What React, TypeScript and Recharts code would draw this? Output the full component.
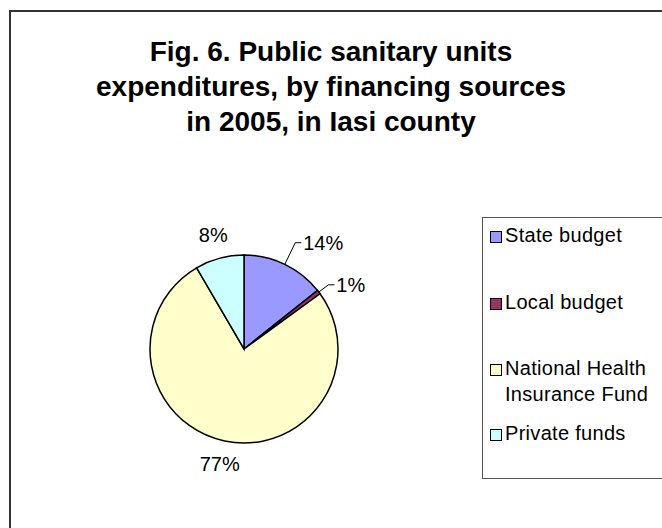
import { Cell, Legend, Pie, PieChart } from "recharts";

// Fig. 6 — shares of expenditure by financing source, 2005, Iasi county
const sources = ["State budget", "Local budget", "National Health Insurance Fund", "Private funds"];
const legendLines = [["State budget"], ["Local budget"], ["National Health", "Insurance Fund"], ["Private funds"]];
const shares = [14.3, 0.7, 76.6, 8.4];
const fills = ["#9999FF", "#993366", "#FFFFCC", "#CCFFFF"];

const titleLines = ["Fig. 6. Public sanitary units", "expenditures, by financing sources", "in 2005, in Iasi county"];

const data = sources.map((name, i) => ({ name, value: shares[i] }));

// small slices on the right get a leader line (Excel "best fit" style)
const leaderReach: Record<string, number> = { "State budget": 24, "Local budget": 12 };

const FONT = "'Liberation Sans', Arial, sans-serif";
const RAD = Math.PI / 180;

function renderLabel(props: any) {
  const { cx, cy, midAngle, outerRadius, percent, name } = props;
  const text = `${Math.round(percent * 100)}%`;
  const reach = leaderReach[name];
  const cos = Math.cos(-midAngle * RAD);
  const sin = Math.sin(-midAngle * RAD);
  if (reach !== undefined) {
    const sx = cx + outerRadius * cos;
    const sy = cy + outerRadius * sin;
    const ex = cx + (outerRadius + reach) * cos;
    const ey = cy + (outerRadius + reach) * sin;
    return (
      <g>
        <polyline points={`${sx},${sy} ${ex},${ey} ${ex + 6},${ey}`} fill="none" stroke="#000" strokeWidth={1} />
        <text x={ex + 8} y={ey} textAnchor="start" dominantBaseline="central" fontFamily={FONT} fontSize={20} fill="#000">
          {text}
        </text>
      </g>
    );
  }
  const x = cx + (outerRadius + 24) * cos;
  const y = cy + (outerRadius + 24) * sin;
  return (
    <text x={x} y={y} textAnchor="middle" dominantBaseline="central" fontFamily={FONT} fontSize={20} fill="#000">
      {text}
    </text>
  );
}

function LegendBox() {
  return (
    <div
      style={{
        width: 200,
        height: 262,
        border: "1.5px solid #555",
        background: "#fff",
        boxSizing: "border-box",
        fontFamily: FONT,
        fontSize: 20,
        color: "#000",
        position: "relative",
      }}
    >
      {legendLines.map((lines, i) => (
        <div key={sources[i]} style={{ position: "absolute", left: 7, top: 8 + [0, 67, 133, 198][i], display: "flex" }}>
          <div
            style={{
              width: 12,
              height: 12,
              marginTop: 5,
              marginRight: 3,
              background: fills[i],
              border: "1.5px solid #000",
              boxSizing: "border-box",
              flex: "none",
            }}
          />
          <div style={{ lineHeight: "26px", marginTop: -4, letterSpacing: 0.3 }}>
            {lines.map((l) => (
              <div key={l}>{l}</div>
            ))}
          </div>
        </div>
      ))}
    </div>
  );
}

export default function App() {
  return (
    <div style={{ position: "absolute", left: 0, top: 0, width: 662, height: 528, background: "#fff", overflow: "hidden" }}>
      <div
        style={{
          position: "absolute",
          left: 9,
          top: 10,
          width: 700,
          height: 600,
          border: "2px solid #333",
          boxSizing: "border-box",
        }}
      />
      <div
        style={{
          position: "absolute",
          left: 0,
          top: 34,
          width: 662,
          textAlign: "center",
          fontFamily: FONT,
          fontWeight: "bold",
          fontSize: 28,
          lineHeight: "35px",
          color: "#000",
        }}
      >
        {titleLines.map((l) => (
          <div key={l}>{l}</div>
        ))}
      </div>
      <div style={{ position: "absolute", left: 0, top: 0 }}>
        <PieChart width={662} height={528} margin={{ top: 0, right: 0, bottom: 0, left: 0 }}>
          <Pie
            data={data}
            dataKey="value"
            nameKey="name"
            cx={244}
            cy={349}
            outerRadius={94}
            startAngle={90}
            endAngle={-270}
            stroke="#000"
            strokeWidth={1.5}
            label={renderLabel}
            labelLine={false}
            isAnimationActive={false}
          >
            {data.map((d, i) => (
              <Cell key={d.name} fill={fills[i]} />
            ))}
          </Pie>
          <Legend content={() => <LegendBox />} wrapperStyle={{ left: 482, top: 217, width: 200, height: 264 }} />
        </PieChart>
      </div>
    </div>
  );
}
